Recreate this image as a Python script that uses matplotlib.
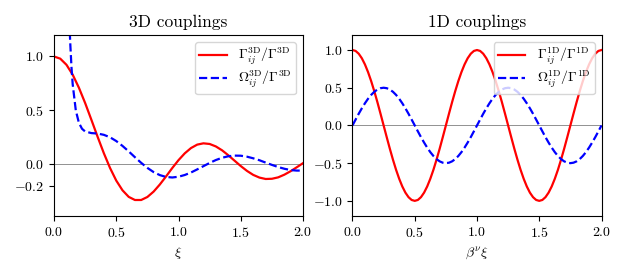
import matplotlib
matplotlib.use("Agg")
import matplotlib.pyplot as plt

plt.rcParams['font.family'] = 'serif'
plt.rcParams['font.serif'] = ['cmr10']
plt.rcParams['mathtext.fontset'] = 'cm'
plt.rcParams['axes.formatter.use_mathtext'] = True
plt.rcParams['font.size'] = 10

# 3D couplings
xi_gamma3d = [0.0, 0.05, 0.1, 0.15, 0.2, 0.25, 0.3, 0.35, 0.4, 0.45, 0.5, 0.55, 0.6, 0.65, 0.7,
              0.75, 0.8, 0.85, 0.9, 0.95, 1.0, 1.05, 1.1, 1.15, 1.2, 1.25, 1.3, 1.35, 1.4, 1.45,
              1.5, 1.55, 1.6, 1.65, 1.7, 1.75, 1.8, 1.85, 1.9, 1.95, 2.0]
gamma3d = [1.0, 0.980, 0.923, 0.831, 0.710, 0.568, 0.413, 0.255, 0.103, -0.035, -0.152, -0.242,
           -0.303, -0.332, -0.332, -0.304, -0.254, -0.188, -0.113, -0.035, 0.038, 0.101, 0.150,
           0.182, 0.194, 0.188, 0.165, 0.129, 0.083, 0.033, -0.017, -0.062, -0.099, -0.124,
           -0.137, -0.135, -0.122, -0.097, -0.065, -0.028, 0.010]
xi_omega3d = [0.12, 0.125, 0.13, 0.14, 0.15, 0.175, 0.2, 0.225, 0.25, 0.3, 0.35, 0.4, 0.45, 0.5,
              0.55, 0.6, 0.65, 0.7, 0.75, 0.8, 0.85, 0.9, 0.95, 1.0, 1.05, 1.1, 1.15, 1.2, 1.25,
              1.3, 1.35, 1.4, 1.45, 1.5, 1.55, 1.6, 1.65, 1.7, 1.75, 1.8, 1.85, 1.9, 1.95, 2.0]
omega3d = [1.45, 1.279, 1.133, 0.906, 0.742, 0.499, 0.384, 0.329, 0.304, 0.289, 0.285, 0.273,
           0.250, 0.215, 0.170, 0.119, 0.065, 0.013, -0.034, -0.073, -0.101, -0.118, -0.123,
           -0.116, -0.100, -0.077, -0.048, -0.018, 0.012, 0.039, 0.060, 0.074, 0.080, 0.079,
           0.070, 0.055, 0.037, 0.015, -0.006, -0.026, -0.042, -0.054, -0.059, -0.059]

# 1D couplings
xi_1d = [0.0, 0.025, 0.05, 0.075, 0.1, 0.125, 0.15, 0.175, 0.2, 0.225, 0.25, 0.275, 0.3, 0.325,
         0.35, 0.375, 0.4, 0.425, 0.45, 0.475, 0.5, 0.525, 0.55, 0.575, 0.6, 0.625, 0.65, 0.675,
         0.7, 0.725, 0.75, 0.775, 0.8, 0.825, 0.85, 0.875, 0.9, 0.925, 0.95, 0.975, 1.0,
         1.025, 1.05, 1.075, 1.1, 1.125, 1.15, 1.175, 1.2, 1.225, 1.25, 1.275, 1.3, 1.325,
         1.35, 1.375, 1.4, 1.425, 1.45, 1.475, 1.5, 1.525, 1.55, 1.575, 1.6, 1.625, 1.65, 1.675,
         1.7, 1.725, 1.75, 1.775, 1.8, 1.825, 1.85, 1.875, 1.9, 1.925, 1.95, 1.975, 2.0]
gamma1d = [1.0, 0.988, 0.951, 0.891, 0.809, 0.707, 0.588, 0.454, 0.309, 0.156,
           0.0, -0.156, -0.309, -0.454, -0.588, -0.707, -0.809, -0.891, -0.951, -0.988,
           -1.0, -0.988, -0.951, -0.891, -0.809, -0.707, -0.588, -0.454, -0.309, -0.156,
           0.0, 0.156, 0.309, 0.454, 0.588, 0.707, 0.809, 0.891, 0.951, 0.988,
           1.0, 0.988, 0.951, 0.891, 0.809, 0.707, 0.588, 0.454, 0.309, 0.156,
           0.0, -0.156, -0.309, -0.454, -0.588, -0.707, -0.809, -0.891, -0.951, -0.988,
           -1.0, -0.988, -0.951, -0.891, -0.809, -0.707, -0.588, -0.454, -0.309, -0.156,
           0.0, 0.156, 0.309, 0.454, 0.588, 0.707, 0.809, 0.891, 0.951, 0.988, 1.0]
omega1d = [0.0, 0.078, 0.155, 0.227, 0.294, 0.354, 0.405, 0.446, 0.476, 0.494,
           0.5, 0.494, 0.476, 0.446, 0.405, 0.354, 0.294, 0.227, 0.155, 0.078,
           0.0, -0.078, -0.155, -0.227, -0.294, -0.354, -0.405, -0.446, -0.476, -0.494,
           -0.5, -0.494, -0.476, -0.446, -0.405, -0.354, -0.294, -0.227, -0.155, -0.078,
           0.0, 0.078, 0.155, 0.227, 0.294, 0.354, 0.405, 0.446, 0.476, 0.494,
           0.5, 0.494, 0.476, 0.446, 0.405, 0.354, 0.294, 0.227, 0.155, 0.078,
           0.0, -0.078, -0.155, -0.227, -0.294, -0.354, -0.405, -0.446, -0.476, -0.494,
           -0.5, -0.494, -0.476, -0.446, -0.405, -0.354, -0.294, -0.227, -0.155, -0.078, 0.0]

fig = plt.figure(figsize=(6.23, 2.73), dpi=100)
ax1 = fig.add_axes([0.0867, 0.209, 0.3997, 0.663])
ax2 = fig.add_axes([0.5658, 0.209, 0.3997, 0.663])

ax1.axhline(0, color='k', lw=0.5, alpha=0.6)
ax1.plot(xi_gamma3d, gamma3d, 'r-', lw=1.6, label=r'$\Gamma_{ij}^{\rm 3D}/\Gamma^{\rm 3D}$')
ax1.plot(xi_omega3d, omega3d, 'b--', lw=1.6, label=r'$\Omega_{ij}^{\rm 3D}/\Gamma^{\rm 3D}$')
ax1.set_xlim(0, 2)
ax1.set_ylim(-0.48, 1.2)
ax1.set_yticks([-0.2, 0.0, 0.5, 1.0])
ax1.set_xticks([0.0, 0.5, 1.0, 1.5, 2.0])
ax1.set_xlabel(r'$\xi$')
ax1.set_title('3D couplings', fontsize=12.5)
ax1.legend(loc='upper right', fontsize=10, labelspacing=0.15, borderpad=0.3)

ax2.axhline(0, color='k', lw=0.5, alpha=0.6)
ax2.plot(xi_1d, gamma1d, 'r-', lw=1.6, label=r'$\Gamma_{ij}^{\rm 1D}/\Gamma^{\rm 1D}$')
ax2.plot(xi_1d, omega1d, 'b--', lw=1.6, label=r'$\Omega_{ij}^{\rm 1D}/\Gamma^{\rm 1D}$')
ax2.set_xlim(0, 2)
ax2.set_ylim(-1.2, 1.2)
ax2.set_yticks([-1.0, -0.5, 0.0, 0.5, 1.0])
ax2.set_xticks([0.0, 0.5, 1.0, 1.5, 2.0])
ax2.set_xlabel(r'$\beta^\nu \xi$')
ax2.set_title('1D couplings', fontsize=12.5)
ax2.legend(loc='upper right', fontsize=10, labelspacing=0.15, borderpad=0.3)

fig.savefig('out.png', dpi=100)
